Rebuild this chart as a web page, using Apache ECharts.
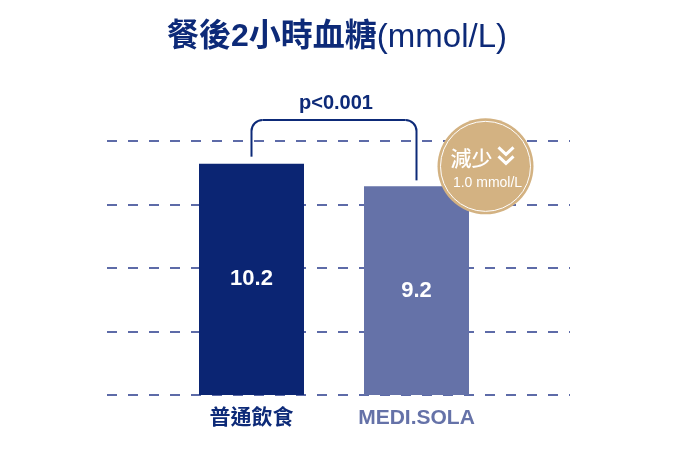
<!DOCTYPE html>
<html>
<head>
<meta charset="utf-8">
<script src="https://cdn.jsdelivr.net/npm/echarts@6/dist/echarts.min.js"></script>
<style>
  html, body { margin: 0; padding: 0; background: #fff; }
  #chart { width: 674px; height: 456px; }
</style>
</head>
<body>
<div id="chart"></div>
<script>
// 資料
var categories = ['普通飲食', 'MEDI.SOLA'];
var values = [10.2, 9.2];
var barColors = ['#0b2573', '#6572a8'];
var labelColors = ['#0d2a78', '#6572a8'];
var pText = 'p<0.001';
var badgeTop = '減少';
var badgeBottom = '1.0 mmol/L';
var yMin = 0, yMax = 11.2, yStep = 2.8;

var FONT = '"Liberation Sans", "Noto Sans CJK TC", sans-serif';
var navy = '#0d2a78';
var tan = '#d3b282';

var chart = echarts.init(document.getElementById('chart'));

var barData = [];
for (var i = 0; i < values.length; i++) {
    barData.push({ value: values[i], itemStyle: { color: barColors[i] } });
}

var option = {
    animation: false,
    title: {
        left: 'center',
        top: 16,
        text: '{a|餐後2小時血糖}{b|(mmol/L)}',
        textStyle: {
            rich: {
                a: { fontFamily: FONT, fontWeight: 'bold', fontSize: 32, color: navy },
                b: { fontFamily: FONT, fontWeight: 'normal', fontSize: 33, color: navy }
            }
        }
    },
    grid: [
        { left: 107, right: 104, top: 141, bottom: 61 },   // 背景虛線
        { left: 169, right: 175, top: 141, bottom: 61 }    // 柱子
    ],
    xAxis: [
        { gridIndex: 0, type: 'value', show: false, min: 0, max: 1 },
        {
            gridIndex: 1,
            type: 'category',
            data: categories,
            axisLine: { show: false },
            axisTick: { show: false },
            axisLabel: {
                margin: 13,
                fontFamily: FONT,
                fontWeight: 'bold',
                fontSize: 21,
                color: function (val, idx) { return labelColors[idx]; }
            }
        }
    ],
    yAxis: [
        {
            gridIndex: 0,
            type: 'value',
            min: yMin, max: yMax, interval: yStep,
            axisLine: { show: false },
            axisTick: { show: false },
            axisLabel: { show: false },
            splitLine: {
                show: true,
                lineStyle: { color: '#5d6ba8', width: 1.8, type: [10, 11] }
            }
        },
        {
            gridIndex: 1,
            type: 'value',
            min: yMin, max: yMax, interval: yStep,
            show: false,
            splitLine: { show: false }
        }
    ],
    series: [{
        type: 'bar',
        xAxisIndex: 1,
        yAxisIndex: 1,
        barWidth: 105,
        data: barData,
        label: {
            show: true,
            position: 'inside',
            color: '#fff',
            fontFamily: FONT,
            fontWeight: 'bold',
            fontSize: 22
        }
    }]
};
chart.setOption(option);

// 括號、p值、減少徽章
var p1 = chart.convertToPixel({ xAxisIndex: 1, yAxisIndex: 1 }, [0, values[0]]);
var p2 = chart.convertToPixel({ xAxisIndex: 1, yAxisIndex: 1 }, [1, values[1]]);
var topY = chart.convertToPixel({ yAxisIndex: 1 }, yMax) - 21;
var r = 11;
var bStyle = { stroke: navy, lineWidth: 2, fill: null };
var cx = p2[0] + 69, cy = p2[1] - 20;

chart.setOption({
    graphic: [
        { type: 'line', z: 100, shape: { x1: p1[0], y1: p1[1] - 7, x2: p1[0], y2: topY + r }, style: bStyle },
        { type: 'arc', z: 100, shape: { cx: p1[0] + r, cy: topY + r, r: r, startAngle: Math.PI, endAngle: Math.PI * 1.5 }, style: bStyle },
        { type: 'line', z: 100, shape: { x1: p1[0] + r, y1: topY, x2: p2[0] - r, y2: topY }, style: bStyle },
        { type: 'arc', z: 100, shape: { cx: p2[0] - r, cy: topY + r, r: r, startAngle: Math.PI * 1.5, endAngle: Math.PI * 2 }, style: bStyle },
        { type: 'line', z: 100, shape: { x1: p2[0], y1: topY + r, x2: p2[0], y2: p2[1] - 6 }, style: bStyle },
        {
            type: 'text', z: 100, x: (p1[0] + p2[0]) / 2 + 2, y: topY - 17,
            style: { text: pText, fill: navy, font: 'bold 20px ' + FONT, align: 'center', verticalAlign: 'middle' }
        },
        { type: 'circle', z: 100, shape: { cx: cx, cy: cy, r: 48 }, style: { fill: tan } },
        { type: 'circle', z: 101, shape: { cx: cx, cy: cy, r: 45 }, style: { fill: null, stroke: '#fff', lineWidth: 1 } },
        {
            type: 'text', z: 101, x: cx - 14, y: cy - 8,
            style: { text: badgeTop, fill: '#fff', font: '500 21px "Noto Sans CJK TC", sans-serif', align: 'center', verticalAlign: 'middle' }
        },
        {
            type: 'polyline', z: 101, shape: { points: [[cx + 13, cy - 19], [cx + 20.5, cy - 12], [cx + 28, cy - 19]] },
            style: { stroke: '#fff', lineWidth: 3, fill: null }
        },
        {
            type: 'polyline', z: 101, shape: { points: [[cx + 13, cy - 10], [cx + 20.5, cy - 3], [cx + 28, cy - 10]] },
            style: { stroke: '#fff', lineWidth: 3, fill: null }
        },
        {
            type: 'text', z: 101, x: cx + 2, y: cy + 17,
            style: { text: badgeBottom, fill: '#fff', font: '500 14px ' + FONT, align: 'center', verticalAlign: 'middle' }
        }
    ]
});
</script>
</body>
</html>
